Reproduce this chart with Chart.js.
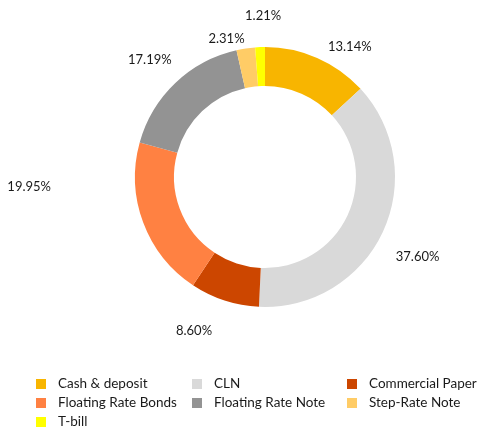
<!DOCTYPE html>
<html>
<head>
<meta charset="utf-8">
<script src="https://cdn.jsdelivr.net/npm/chart.js"></script>
<style>
  body { margin: 0; background: #fff; }
  #wrap { position: relative; width: 478px; height: 427px; overflow: hidden; }
  #legend { position: absolute; left: 36px; top: 374px; font-family: Lato, "Liberation Sans", sans-serif; font-size: 13.5px; color: #1a1a1a; }
  .item { position: absolute; white-space: nowrap; height: 18px; line-height: 18px; }
  .sw { display: inline-block; width: 10px; height: 10px; margin-right: 12px; vertical-align: -1px; }
</style>
</head>
<body>
<div id="wrap">
  <canvas id="myChart" width="478" height="427"></canvas>
  <div id="legend"></div>
</div>
<script>
const categories = ["Cash & deposit", "CLN", "Commercial Paper", "Floating Rate Bonds", "Floating Rate Note", "Step-Rate Note", "T-bill"];
const shares = [13.14, 37.60, 8.60, 19.95, 17.19, 2.31, 1.21];
const sliceColors = ["#F8B500", "#D9D9D9", "#CC4600", "#FF8142", "#939393", "#FFCC66", "#FFFF00"];
// label placement: distance outside the ring, and turn (deg) off the slice middle
const labelGap = [25, 42, 39, 106, 34, 13, 31];
const labelTurn = [9.5, 2.5, 6.7, 18.2, -1, -7.1, 1.5];

// percentage labels outside the ring
const outLabels = {
  id: 'outLabels',
  afterDatasetsDraw(chart) {
    const ctx = chart.ctx;
    const meta = chart.getDatasetMeta(0);
    ctx.save();
    ctx.font = '13px Lato, "Liberation Sans", sans-serif';
    ctx.fillStyle = '#1a1a1a';
    ctx.textAlign = 'center';
    ctx.textBaseline = 'middle';
    meta.data.forEach((arc, i) => {
      const p = arc.getProps(['x', 'y', 'startAngle', 'endAngle', 'outerRadius'], true);
      const a = (p.startAngle + p.endAngle) / 2 + labelTurn[i] * Math.PI / 180;
      const r = p.outerRadius + labelGap[i];
      ctx.fillText(shares[i].toFixed(2) + '%', p.x + Math.cos(a) * r, p.y + Math.sin(a) * r);
    });
    ctx.restore();
  }
};

new Chart("myChart", {
  type: "doughnut",
  data: {
    labels: categories,
    datasets: [{
      data: shares,
      backgroundColor: sliceColors,
      borderWidth: 0
    }]
  },
  options: {
    responsive: false,
    animation: false,
    cutout: '70%',
    layout: { padding: { left: 135, right: 83, top: 47, bottom: 120 } },
    plugins: {
      legend: { display: false },
      tooltip: { enabled: false }
    }
  },
  plugins: [outLabels]
});

// legend, 3 columns
const legend = document.getElementById('legend');
const colX = [0, 156, 311];
categories.forEach((name, i) => {
  const d = document.createElement('div');
  d.className = 'item';
  d.style.left = colX[i % 3] + 'px';
  d.style.top = (Math.floor(i / 3) * 19) + 'px';
  d.innerHTML = '<span class="sw" style="background:' + sliceColors[i] + '"></span>' + name.replace('&', '&amp;');
  legend.appendChild(d);
});
</script>
</body>
</html>
